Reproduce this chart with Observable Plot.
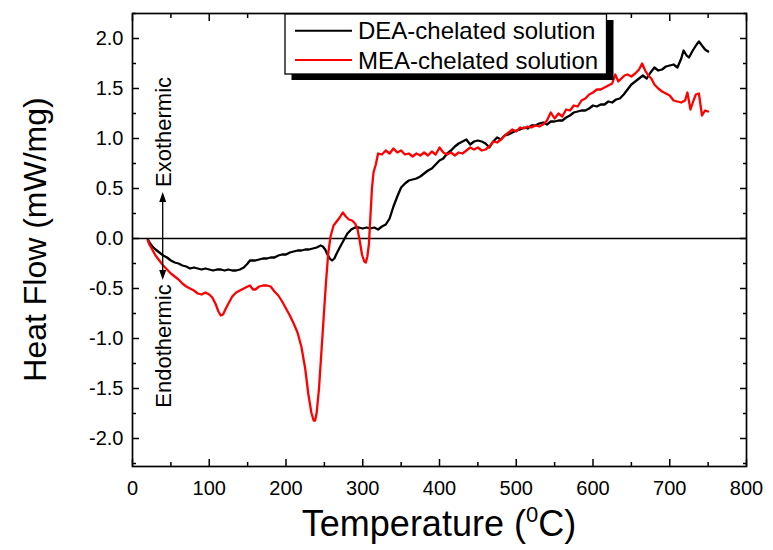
<!DOCTYPE html>
<html><head><meta charset="utf-8">
<script src="https://cdn.jsdelivr.net/npm/d3@7"></script>
<script src="https://cdn.jsdelivr.net/npm/@observablehq/plot@0.6"></script>
<style>
body{margin:0;background:#fff;}
svg{font-family:"Liberation Sans",Arial,sans-serif;}
</style>
</head><body><div id="chart"></div>
<script>
// ---- data ----
const seriesNames = ["DEA-chelated solution", "MEA-chelated solution"];
const seriesColors = ["#000000", "#ff0000"];

const deaT  = [20,22,26,30,35,40,45,50,55,60,65,70,75,80,85,90,95,100,105,110,115,120,125,130,135,140,145,150,153,160,165,170,175,180,185,190,195,200,205,210,215,220,225,230,235,240,245,248,251,254,257,260,263,266,270,275,280,285,290,295,300,305,310,315,320,325,330,335,340,345,350,355,360,365,370,375,380,385,390,395,400,405,410,415,420,425,430,435,440,445,450,455,460,465,470,475,480,485,490,495,500,505,510,515,520,525,530,535,540,545,550,555,560,565,570,575,580,585,590,595,600,605,610,615,620,625,630,635,640,645,650,655,660,665,670,675,680,685,690,695,700,705,710,715,718,722,725,730,735,738,742,746,750];
const deaHF = [-0.01,-0.04,-0.08,-0.11,-0.14,-0.17,-0.19,-0.22,-0.24,-0.25,-0.27,-0.28,-0.30,-0.29,-0.30,-0.31,-0.30,-0.31,-0.32,-0.31,-0.31,-0.32,-0.31,-0.32,-0.32,-0.31,-0.29,-0.25,-0.22,-0.22,-0.21,-0.20,-0.20,-0.19,-0.19,-0.17,-0.16,-0.16,-0.14,-0.13,-0.12,-0.12,-0.11,-0.11,-0.10,-0.09,-0.07,-0.08,-0.11,-0.16,-0.20,-0.22,-0.20,-0.15,-0.09,-0.02,0.05,0.09,0.11,0.11,0.10,0.11,0.10,0.11,0.09,0.12,0.14,0.20,0.32,0.42,0.51,0.55,0.58,0.59,0.60,0.62,0.65,0.68,0.70,0.74,0.78,0.80,0.85,0.88,0.92,0.95,0.97,0.99,0.94,0.97,0.98,0.97,0.95,0.91,0.97,1.01,0.99,1.03,1.04,1.06,1.08,1.09,1.11,1.10,1.13,1.13,1.15,1.16,1.14,1.17,1.17,1.18,1.18,1.21,1.23,1.26,1.27,1.28,1.28,1.30,1.33,1.32,1.34,1.34,1.37,1.36,1.39,1.40,1.44,1.49,1.54,1.57,1.60,1.63,1.60,1.66,1.71,1.68,1.69,1.72,1.73,1.74,1.71,1.80,1.88,1.83,1.81,1.88,1.94,1.97,1.93,1.89,1.87];

const meaT  = [20,22,25,30,35,40,45,50,55,60,65,70,75,80,85,90,95,100,104,108,112,115,118,121,125,130,135,140,145,150,153,157,160,165,170,175,180,185,190,195,200,205,210,215,220,225,229,233,236,238,240,243,246,249,252,255,258,262,266,270,274,278,282,286,290,293,296,299,302,304,306,308,310,312,314,317,320,325,330,335,340,345,350,355,360,365,370,375,380,385,390,395,400,405,410,415,420,425,430,435,440,445,450,455,460,465,470,475,480,485,490,495,500,505,510,515,520,525,530,535,540,545,550,555,560,565,570,575,580,585,590,595,600,605,610,615,620,625,629,633,637,641,645,650,655,660,664,668,672,676,680,685,690,695,700,705,710,715,720,723,727,731,734,738,742,746,750];
const meaHF = [-0.02,-0.06,-0.10,-0.17,-0.22,-0.27,-0.31,-0.35,-0.38,-0.41,-0.45,-0.48,-0.50,-0.52,-0.55,-0.56,-0.54,-0.56,-0.59,-0.65,-0.73,-0.77,-0.76,-0.71,-0.65,-0.58,-0.54,-0.52,-0.50,-0.48,-0.47,-0.51,-0.51,-0.48,-0.47,-0.47,-0.48,-0.53,-0.57,-0.63,-0.70,-0.77,-0.85,-0.94,-1.08,-1.30,-1.55,-1.74,-1.82,-1.82,-1.74,-1.50,-1.15,-0.80,-0.45,-0.15,0.02,0.13,0.17,0.21,0.26,0.22,0.19,0.18,0.15,0.10,-0.02,-0.16,-0.23,-0.24,-0.18,-0.06,0.22,0.50,0.66,0.74,0.85,0.84,0.88,0.85,0.90,0.86,0.88,0.84,0.85,0.82,0.85,0.83,0.86,0.83,0.87,0.84,0.91,0.86,0.84,0.86,0.83,0.86,0.85,0.88,0.91,0.89,0.91,0.88,0.89,0.92,0.97,0.96,0.99,1.03,1.06,1.09,1.07,1.11,1.10,1.12,1.11,1.13,1.12,1.14,1.18,1.26,1.20,1.25,1.22,1.29,1.28,1.33,1.32,1.38,1.40,1.44,1.46,1.49,1.49,1.51,1.53,1.55,1.64,1.57,1.60,1.63,1.64,1.62,1.65,1.69,1.75,1.68,1.63,1.60,1.54,1.50,1.47,1.45,1.43,1.38,1.37,1.36,1.38,1.46,1.29,1.38,1.44,1.45,1.23,1.28,1.27];

const xMajorTicks = [0,100,200,300,400,500,600,700,800];
const xMinorTicks = [50,150,250,350,450,550,650,750];
const yMajorTicks = [-2.0,-1.5,-1.0,-0.5,0.0,0.5,1.0,1.5,2.0];
const yMinorTicks = [-2.25,-1.75,-1.25,-0.75,-0.25,0.25,0.75,1.25,1.75,2.25];

const xTitle = "Temperature (";
const xTitleSup = "0";
const xTitleEnd = "C)";
const yTitle = "Heat Flow (mW/mg)";
const annotLabels = ["Exothermic", "Endothermic"];
const annotT = 40;          // temperature of the annotation arrow
const annotArrowHF = [0.46, -0.42]; // arrow tips (up, down)
const annotLabelHF = [1.06, -1.08]; // label centres

// ---- table ----
const rows = [];
deaT.forEach((t, i) => rows.push({T: t, HF: deaHF[i], s: seriesNames[0]}));
meaT.forEach((t, i) => rows.push({T: t, HF: meaHF[i], s: seriesNames[1]}));

const fmtY = d => d.toFixed(1);
const blank = () => "";

const plot = Plot.plot({
  width: 773, height: 550,
  marginLeft: 132, marginRight: 27, marginTop: 13, marginBottom: 84,
  x: {domain: [0, 800]},
  y: {domain: [-2.28, 2.25]},
  color: {domain: seriesNames, range: seriesColors},
  style: {fontFamily: '"Liberation Sans", Arial, sans-serif', background: "white", color: "black"},
  marks: [
    Plot.ruleY([0], {stroke: "black", strokeWidth: 1.6}),
    Plot.line(rows, {x: "T", y: "HF", z: "s", stroke: "s", strokeWidth: 2.3, strokeLinejoin: "round"}),
    Plot.frame({stroke: "black", strokeWidth: 1.7}),
    // bottom
    Plot.axisX(xMajorTicks, {anchor: "bottom", tickSize: 0, tickPadding: 14, fontSize: 20, tickFormat: d => String(d), label: null}),
    Plot.axisX(xMajorTicks, {anchor: "bottom", tickSize: -7, strokeWidth: 1.5, tickFormat: blank, label: null}),
    Plot.axisX(xMinorTicks, {anchor: "bottom", tickSize: -4, strokeWidth: 1.5, tickFormat: blank, label: null}),
    // top
    Plot.axisX(xMajorTicks, {anchor: "top", tickSize: -7, strokeWidth: 1.5, tickFormat: blank, label: null}),
    Plot.axisX(xMinorTicks, {anchor: "top", tickSize: -4, strokeWidth: 1.5, tickFormat: blank, label: null}),
    // left
    Plot.axisY(yMajorTicks, {anchor: "left", tickSize: 0, tickPadding: 9, fontSize: 20, tickFormat: fmtY, label: null}),
    Plot.axisY(yMajorTicks, {anchor: "left", tickSize: -7, strokeWidth: 1.5, tickFormat: blank, label: null}),
    Plot.axisY(yMinorTicks, {anchor: "left", tickSize: -4, strokeWidth: 1.5, tickFormat: blank, label: null}),
    // right
    Plot.axisY(yMajorTicks, {anchor: "right", tickSize: -7, strokeWidth: 1.5, tickFormat: blank, label: null}),
    Plot.axisY(yMinorTicks, {anchor: "right", tickSize: -4, strokeWidth: 1.5, tickFormat: blank, label: null})
  ]
});

document.getElementById("chart").appendChild(plot);

const sx = plot.scale("x"), sy = plot.scale("y");
const svg = d3.select(plot);

// axis titles
svg.append("text")
  .attr("transform", `translate(${(sx.apply(0) + sx.apply(800)) / 2},536)`)
  .attr("text-anchor", "middle").attr("font-size", 36).attr("fill", "black")
  .call(t => {
    t.append("tspan").text(xTitle);
    t.append("tspan").attr("font-size", 22).attr("dy", -14).text(xTitleSup);
    t.append("tspan").attr("dy", 14).text(xTitleEnd);
  });
svg.append("text")
  .attr("transform", `translate(46,${(sy.apply(2.25) + sy.apply(-2.28)) / 2}) rotate(-90)`)
  .attr("text-anchor", "middle").attr("font-size", 32).attr("fill", "black")
  .text(yTitle);

// exo/endo annotation
const ax = sx.apply(annotT);
const yUp = sy.apply(annotArrowHF[0]), yDn = sy.apply(annotArrowHF[1]);
svg.append("line").attr("x1", ax).attr("x2", ax).attr("y1", yUp + 6).attr("y2", yDn - 6)
  .attr("stroke", "black").attr("stroke-width", 1.3);
svg.append("path").attr("d", `M${ax},${yUp} L${ax - 3.5},${yUp + 10} L${ax + 3.5},${yUp + 10}Z`).attr("fill", "black");
svg.append("path").attr("d", `M${ax},${yDn} L${ax - 3.5},${yDn - 10} L${ax + 3.5},${yDn - 10}Z`).attr("fill", "black");
annotLabels.forEach((lab, i) => {
  svg.append("text")
    .attr("transform", `translate(${ax},${sy.apply(annotLabelHF[i])}) rotate(-90)`)
    .attr("text-anchor", "middle").attr("dy", "0.36em")
    .attr("font-size", 22).attr("fill", "black").text(lab);
});

// legend box (inside the frame, top)
const lg = svg.append("g");
lg.append("rect").attr("x", 291.5).attr("y", 20).attr("width", 322).attr("height", 60).attr("fill", "black");
lg.append("rect").attr("x", 285).attr("y", 14).attr("width", 321.5).attr("height", 60)
  .attr("fill", "white").attr("stroke", "black").attr("stroke-width", 1.3);
const legendY = [30.7, 60];
seriesNames.forEach((name, i) => {
  lg.append("line").attr("x1", 295).attr("x2", 352).attr("y1", legendY[i]).attr("y2", legendY[i])
    .attr("stroke", seriesColors[i]).attr("stroke-width", 2);
  lg.append("text").attr("x", 358).attr("y", legendY[i]).attr("dy", "0.36em")
    .attr("text-anchor", "start")
    .attr("font-size", 24).attr("fill", "black").text(name);
});
</script>
</body></html>
